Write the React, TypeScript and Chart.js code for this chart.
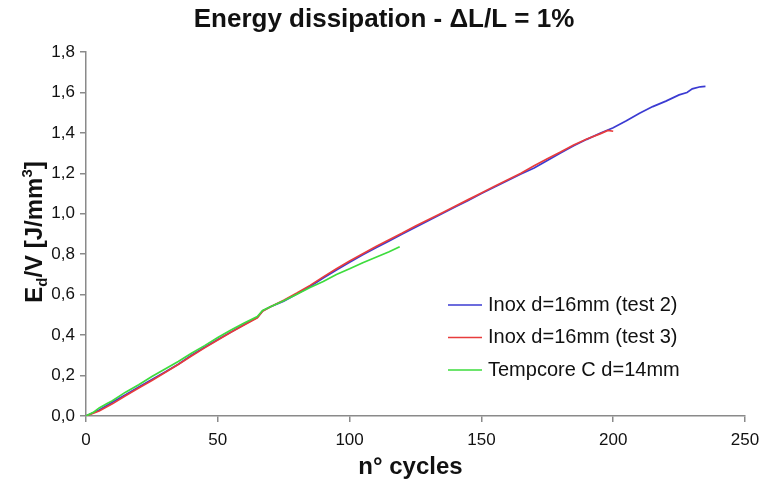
import React, { useEffect, useRef } from 'react';
import { Chart, registerables } from 'chart.js';

Chart.register(...registerables);

const FONT = '"Liberation Sans", Arial, Helvetica, sans-serif';

const chartTitle = 'Energy dissipation - \u0394L/L = 1%';
const xAxisTitle = 'n\u00b0 cycles';
const seriesLabels = ['Inox d=16mm (test 2)', 'Inox d=16mm (test 3)', 'Tempcore C d=14mm'];
const seriesColors = ['#3b3bd2', '#e83c3c', '#3ddc3d'];

const xTickValues = [0, 50, 100, 150, 200, 250];
const yTickValues = [0, 0.2, 0.4, 0.6, 0.8, 1.0, 1.2, 1.4, 1.6, 1.8];

const blueCycles = [0, 5, 10, 15, 20, 25, 30, 35, 40, 45, 50, 55, 60, 65, 67, 70, 75, 80, 85, 90, 95, 100, 105, 110, 115, 120, 125, 130, 135, 140, 145, 150, 155, 160, 165, 170, 175, 180, 185, 190, 195, 200, 205, 210, 215, 220, 225, 228, 230, 233, 235];
const blueValues = [0, 0.030, 0.068, 0.105, 0.143, 0.180, 0.218, 0.256, 0.300, 0.340, 0.378, 0.415, 0.452, 0.488, 0.520, 0.540, 0.568, 0.603, 0.640, 0.682, 0.722, 0.760, 0.797, 0.832, 0.866, 0.900, 0.934, 0.967, 1.000, 1.033, 1.066, 1.100, 1.132, 1.165, 1.197, 1.226, 1.264, 1.300, 1.336, 1.368, 1.398, 1.425, 1.460, 1.497, 1.530, 1.557, 1.588, 1.600, 1.618, 1.628, 1.630];

const redCycles = [0, 5, 10, 15, 20, 25, 30, 35, 40, 45, 50, 55, 60, 65, 67, 70, 75, 80, 85, 90, 95, 100, 105, 110, 115, 120, 125, 130, 135, 140, 145, 150, 155, 160, 165, 170, 175, 180, 185, 190, 195, 198, 200];
const redValues = [0, 0.025, 0.060, 0.100, 0.138, 0.176, 0.215, 0.255, 0.297, 0.337, 0.376, 0.414, 0.450, 0.486, 0.518, 0.540, 0.572, 0.608, 0.646, 0.688, 0.728, 0.766, 0.802, 0.838, 0.872, 0.905, 0.940, 0.972, 1.004, 1.037, 1.070, 1.103, 1.136, 1.168, 1.200, 1.238, 1.272, 1.305, 1.340, 1.370, 1.395, 1.412, 1.408];

const greenCycles = [0, 3, 5, 8, 10, 15, 20, 25, 30, 35, 40, 45, 50, 55, 60, 65, 67, 70, 75, 80, 85, 90, 95, 100, 105, 110, 115, 119];
const greenValues = [0, 0.020, 0.040, 0.062, 0.075, 0.118, 0.155, 0.195, 0.232, 0.270, 0.310, 0.348, 0.388, 0.425, 0.460, 0.492, 0.522, 0.540, 0.570, 0.602, 0.635, 0.665, 0.700, 0.728, 0.758, 0.785, 0.812, 0.837];

const toPoints = (xs: number[], ys: number[]) => xs.map((x, i) => ({ x, y: ys[i] }));

const overlayPlugin = {
  id: 'overlayText',
  afterDraw(chart: any) {
    const ctx = chart.ctx as CanvasRenderingContext2D;
    const area = chart.chartArea;
    ctx.save();
    ctx.fillStyle = '#111';

    // Title
    ctx.font = `bold 26px ${FONT}`;
    ctx.textAlign = 'center';
    ctx.textBaseline = 'middle';
    ctx.fillText(chartTitle, 384, 20);

    // X axis title
    ctx.font = `bold 24px ${FONT}`;
    ctx.fillText(xAxisTitle, (area.left + area.right) / 2 - 5, 467);

    // Y axis title with subscript and superscript
    const segs = [
      { t: 'E', size: 24, shift: 0 },
      { t: 'd', size: 15, shift: 5 },
      { t: '/V [J/mm', size: 24, shift: 0 },
      { t: '3', size: 15, shift: -10 },
      { t: ']', size: 24, shift: 0 },
    ];
    let total = 0;
    for (const s of segs) {
      ctx.font = `bold ${s.size}px ${FONT}`;
      total += ctx.measureText(s.t).width;
    }
    ctx.translate(33, (area.top + area.bottom) / 2 - 2);
    ctx.rotate(-Math.PI / 2);
    ctx.textAlign = 'left';
    ctx.textBaseline = 'alphabetic';
    let cx = -total / 2;
    for (const s of segs) {
      ctx.font = `bold ${s.size}px ${FONT}`;
      ctx.fillText(s.t, cx, 9 + s.shift);
      cx += ctx.measureText(s.t).width;
    }
    ctx.restore();

    // Legend
    ctx.save();
    ctx.font = `20px ${FONT}`;
    ctx.textAlign = 'left';
    ctx.textBaseline = 'middle';
    const rows = [305, 337.5, 370];
    chart.data.datasets.forEach((ds: any, i: number) => {
      const y = rows[i];
      ctx.strokeStyle = ds.borderColor;
      ctx.lineWidth = 1.5;
      ctx.beginPath();
      ctx.moveTo(448, y);
      ctx.lineTo(482, y);
      ctx.stroke();
      ctx.fillStyle = '#111';
      ctx.fillText(ds.label, 488, y);
    });
    ctx.restore();
  },
};

export default function App() {
  const canvasRef = useRef<HTMLCanvasElement | null>(null);

  useEffect(() => {
    if (!canvasRef.current) return;
    const datasets = [
      { label: seriesLabels[0], data: toPoints(blueCycles, blueValues), borderColor: seriesColors[0], order: 2 },
      { label: seriesLabels[1], data: toPoints(redCycles, redValues), borderColor: seriesColors[1], order: 1 },
      { label: seriesLabels[2], data: toPoints(greenCycles, greenValues), borderColor: seriesColors[2], order: 0 },
    ].map((d) => ({
      ...d,
      backgroundColor: d.borderColor,
      borderWidth: 1.7,
      pointRadius: 0,
      pointHoverRadius: 0,
      tension: 0,
      fill: false,
    }));

    const axisColor = '#8a8a8a';
    const chart = new Chart(canvasRef.current, {
      type: 'line',
      data: { datasets },
      plugins: [overlayPlugin],
      options: {
        responsive: false,
        animation: false,
        layout: { autoPadding: false, padding: { top: 52, right: 17, bottom: 0, left: 0 } },
        plugins: {
          legend: { display: false },
          title: { display: false },
          tooltip: { enabled: false },
        },
        scales: {
          x: {
            type: 'linear',
            min: 0,
            max: 250,
            afterBuildTicks: (s: any) => {
              s.ticks = xTickValues.map((v) => ({ value: v }));
            },
            afterFit: (s: any) => {
              s.height = 68;
              s.paddingLeft = 0;
              s.paddingRight = 0;
            },
            grid: { display: true, drawOnChartArea: false, drawTicks: true, tickLength: 6, color: axisColor, lineWidth: 1.5 },
            border: { display: true, color: axisColor, width: 1.5 },
            ticks: {
              font: { family: FONT, size: 17 },
              color: '#111',
              padding: 8,
              maxRotation: 0,
              callback: (v: any) => String(v),
            },
          },
          y: {
            type: 'linear',
            min: 0,
            max: 1.8,
            afterBuildTicks: (s: any) => {
              s.ticks = yTickValues.map((v) => ({ value: v }));
            },
            afterFit: (s: any) => {
              s.width = 86;
              s.paddingTop = 0;
              s.paddingBottom = 0;
            },
            grid: { display: true, drawOnChartArea: false, drawTicks: true, tickLength: 6, color: axisColor, lineWidth: 1.5 },
            border: { display: true, color: axisColor, width: 1.5 },
            ticks: {
              font: { family: FONT, size: 17 },
              color: '#111',
              padding: 5,
              callback: (v: any) => Number(v).toFixed(1).replace('.', ','),
            },
          },
        },
      } as any,
    });
    return () => chart.destroy();
  }, []);

  return (
    <div style={{ position: 'absolute', left: 0, top: 0, width: 762, height: 484, background: '#fff' }}>
      <canvas ref={canvasRef} width={762} height={484} style={{ display: 'block' }} />
    </div>
  );
}
